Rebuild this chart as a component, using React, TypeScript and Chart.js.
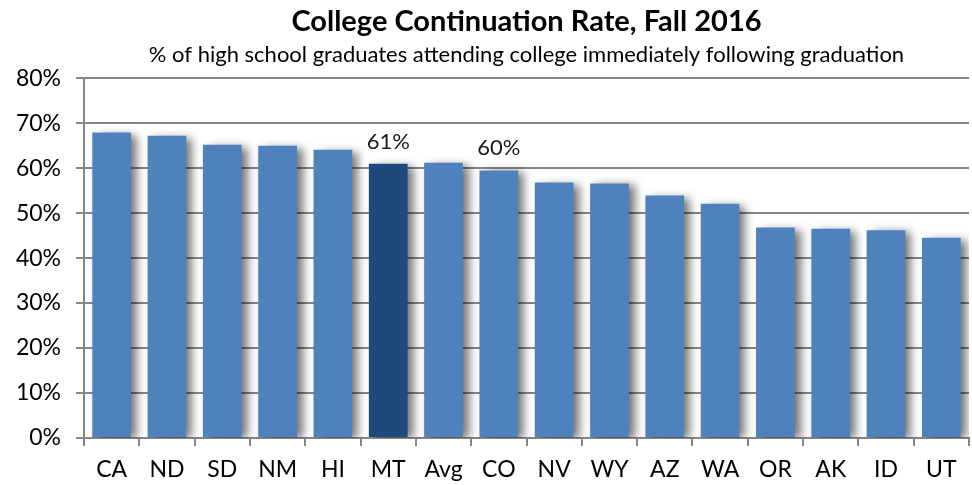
import React, { useEffect, useRef } from "react";
import { Chart, registerables } from "chart.js";

Chart.register(...registerables);

const categories = ["CA", "ND", "SD", "NM", "HI", "MT", "Avg", "CO", "NV", "WY", "AZ", "WA", "OR", "AK", "ID", "UT"];
const rates = [67.9, 67.2, 65.2, 65.0, 64.1, 61.0, 61.2, 59.5, 56.8, 56.6, 53.9, 52.1, 46.8, 46.5, 46.2, 44.5];
const dataLabels = ["", "", "", "", "", "61%", "", "60%", "", "", "", "", "", "", "", ""];
const highlight = "MT";
const yTicks = [0, 10, 20, 30, 40, 50, 60, 70, 80];

const FONT = "Lato, 'Open Sans', sans-serif";

const shadowPlugin = {
  id: "barShadow",
  beforeDatasetsDraw(chart: any) {
    const ctx = chart.ctx;
    ctx.save();
    ctx.shadowColor = "rgba(0,0,0,0.55)";
    ctx.shadowBlur = 9;
    ctx.shadowOffsetX = 6;
    ctx.shadowOffsetY = 2;
  },
  afterDatasetsDraw(chart: any) {
    chart.ctx.restore();
  },
};

const labelPlugin = {
  id: "valueLabels",
  afterDatasetsDraw(chart: any) {
    const ctx = chart.ctx;
    const meta = chart.getDatasetMeta(0);
    ctx.save();
    ctx.font = `22px ${FONT}`;
    ctx.fillStyle = "#1a1a1a";
    ctx.textAlign = "center";
    ctx.textBaseline = "alphabetic";
    meta.data.forEach((bar: any, i: number) => {
      const t = dataLabels[i];
      if (t) ctx.fillText(t, bar.x, bar.y - 15);
    });
    ctx.restore();
  },
};

export default function App() {
  const ref = useRef<HTMLCanvasElement>(null);
  useEffect(() => {
    document.body.style.margin = "0";
    const chart = new Chart(ref.current!, {
      type: "bar",
      data: {
        labels: categories,
        datasets: [
          {
            data: rates,
            backgroundColor: categories.map((c) => (c === highlight ? "#1F497D" : "#4F81BD")),
            borderWidth: 0,
            barPercentage: 0.7,
            categoryPercentage: 1,
          },
        ],
      },
      options: {
        animation: false,
        responsive: false,
        layout: { padding: { right: 3 } },
        plugins: {
          legend: { display: false },
          tooltip: { enabled: false },
          title: {
            display: true,
            fullSize: false,
            text: "College Continuation Rate, Fall 2016",
            font: { family: FONT, size: 29, weight: "bold" },
            color: "#000",
            padding: { top: 4, bottom: 3 },
          },
          subtitle: {
            display: true,
            fullSize: false,
            text: "% of high school graduates attending college immediately following graduation",
            font: { family: FONT, size: 22 },
            color: "#000",
            padding: { top: 0, bottom: 10 },
          },
        },
        scales: {
          x: {
            offset: true,
            grid: {
              display: true,
              offset: true,
              drawOnChartArea: false,
              drawTicks: true,
              tickLength: 8,
              color: "#868686",
              lineWidth: 2,
            },
            border: { display: true, color: "#868686", width: 2 },
            ticks: { font: { family: FONT, size: 23 }, color: "#000", padding: 10 },
            afterFit(scale: any) {
              scale.height = 47;
            },
          },
          y: {
            min: 0,
            max: 80,
            afterBuildTicks(scale: any) {
              scale.ticks = yTicks.map((v) => ({ value: v }));
            },
            grid: { color: "#868686", lineWidth: 2, tickLength: 8 },
            border: { display: true, color: "#868686", width: 2 },
            ticks: {
              font: { family: FONT, size: 23 },
              color: "#000",
              padding: 15,
              callback: (v: any) => `${v}%`,
            },
            afterFit(scale: any) {
              scale.width = 84;
            },
          },
        },
      },
      plugins: [shadowPlugin, labelPlugin],
    });
    return () => chart.destroy();
  }, []);
  return (
    <div style={{ width: 972, height: 485 }}>
      <canvas ref={ref} width={972} height={485} />
    </div>
  );
}
